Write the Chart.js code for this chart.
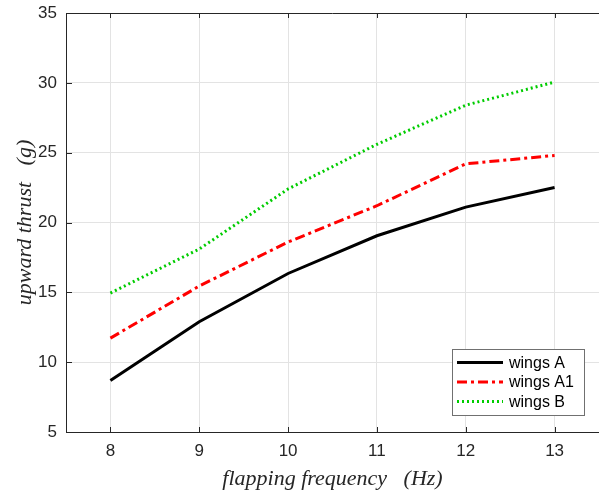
<!DOCTYPE html>
<html lang="en">
<head>
    <meta charset="UTF-8">
    <title>Upward thrust vs flapping frequency</title>
    <script src="https://cdn.jsdelivr.net/npm/chart.js"></script>
    <style>
        body { margin: 0; background: #ffffff; }
        .wrap { width: 599px; height: 496px; }
    </style>
</head>
<body>
    <div class="wrap"><canvas id="thrustChart" width="599" height="496"></canvas></div>
    <script>
        const frequencies = ['8', '9', '10', '11', '12', '13'];
        const wingsA  = [8.68, 12.9, 16.35, 19.05, 21.1, 22.5];
        const wingsA1 = [11.72, 15.45, 18.6, 21.2, 24.2, 24.8];
        const wingsB  = [14.95, 18.1, 22.4, 25.6, 28.4, 30.05];
        const yTicks = [5, 10, 15, 20, 25, 30, 35];

        const axisColor = '#262626';
        const gridColor = '#e3e3e3';

        // MATLAB-style box: top border, inward tick marks and legend inside the axes
        const boxPlugin = {
            id: 'boxPlugin',
            afterDatasetsDraw(chart) {
                const { ctx, chartArea: a, scales } = chart;
                ctx.save();
                ctx.strokeStyle = axisColor;
                ctx.lineWidth = 1;
                ctx.beginPath();
                ctx.moveTo(a.left, a.top + 0.5);
                ctx.lineTo(a.right, a.top + 0.5);
                frequencies.forEach((f, i) => {
                    const x = Math.round(scales.x.getPixelForValue(i)) + 0.5;
                    ctx.moveTo(x, a.bottom); ctx.lineTo(x, a.bottom - 5);
                    ctx.moveTo(x, a.top); ctx.lineTo(x, a.top + 5);
                });
                yTicks.forEach(v => {
                    const y = Math.round(scales.y.getPixelForValue(v)) + 0.5;
                    ctx.moveTo(a.left, y); ctx.lineTo(a.left + 6, y);
                });
                ctx.stroke();

                // legend
                const bx = 452, by = 349, bw = 132, bh = 66;
                ctx.fillStyle = '#ffffff';
                ctx.fillRect(bx, by, bw, bh);
                ctx.strokeStyle = '#707070';
                ctx.strokeRect(bx + 0.5, by + 0.5, bw, bh);
                ctx.font = '16px "Liberation Sans", Arial, sans-serif';
                ctx.textBaseline = 'middle';
                chart.data.datasets.forEach((ds, i) => {
                    const y = by + 13.5 + i * 19.5;
                    ctx.strokeStyle = ds.borderColor;
                    ctx.lineWidth = ds.borderWidth;
                    ctx.setLineDash(ds.borderDash || []);
                    ctx.beginPath();
                    ctx.moveTo(bx + 5, y);
                    ctx.lineTo(bx + 51, y);
                    ctx.stroke();
                    ctx.setLineDash([]);
                    ctx.fillStyle = '#000000';
                    ctx.fillText(ds.label, bx + 57, y + 1);
                });
                ctx.restore();
            }
        };

        new Chart(document.getElementById('thrustChart'), {
            type: 'line',
            data: {
                labels: frequencies,
                datasets: [
                    { label: 'wings A', data: wingsA, borderColor: '#000000', borderWidth: 3, borderDash: [] },
                    { label: 'wings A1', data: wingsA1, borderColor: '#ff0000', borderWidth: 3, borderDash: [10, 4, 3, 4] },
                    { label: 'wings B', data: wingsB, borderColor: '#00cc00', borderWidth: 3, borderDash: [2, 3] }
                ]
            },
            options: {
                responsive: false,
                animation: false,
                layout: { padding: { top: 0, right: 0, left: 8, bottom: 0 } },
                elements: { point: { radius: 0 }, line: { tension: 0, fill: false, borderCapStyle: 'butt' } },
                plugins: { legend: { display: false }, tooltip: { enabled: false } },
                scales: {
                    x: {
                        type: 'category',
                        offset: true,
                        grid: { offset: false, color: gridColor, drawTicks: false },
                        border: { color: axisColor, width: 1 },
                        ticks: { color: axisColor, padding: 9, font: { family: '"Liberation Sans", Arial, sans-serif', size: 17 } },
                        title: {
                            display: true,
                            text: 'flapping frequency   (Hz)',
                            color: axisColor,
                            padding: { top: 4 },
                            font: { family: '"Liberation Serif", "Times New Roman", serif', size: 22, style: 'italic' }
                        },
                        afterFit(scale) { scale.height = 64; }
                    },
                    y: {
                        min: 5,
                        max: 35,
                        afterBuildTicks(scale) { scale.ticks = yTicks.map(v => ({ value: v })); },
                        grid: { color: gridColor, drawTicks: false },
                        border: { color: axisColor, width: 1 },
                        ticks: { color: axisColor, padding: 9, font: { family: '"Liberation Sans", Arial, sans-serif', size: 17 } },
                        title: {
                            display: true,
                            text: 'upward thrust   (g)',
                            color: axisColor,
                            padding: { bottom: 0 },
                            font: { family: '"Liberation Serif", "Times New Roman", serif', size: 22, style: 'italic' }
                        },
                        afterFit(scale) {
                            scale.width = 58;
                            scale.paddingTop = 13;
                            scale.paddingBottom = 0;
                        }
                    }
                }
            },
            plugins: [boxPlugin]
        });
    </script>
</body>
</html>
